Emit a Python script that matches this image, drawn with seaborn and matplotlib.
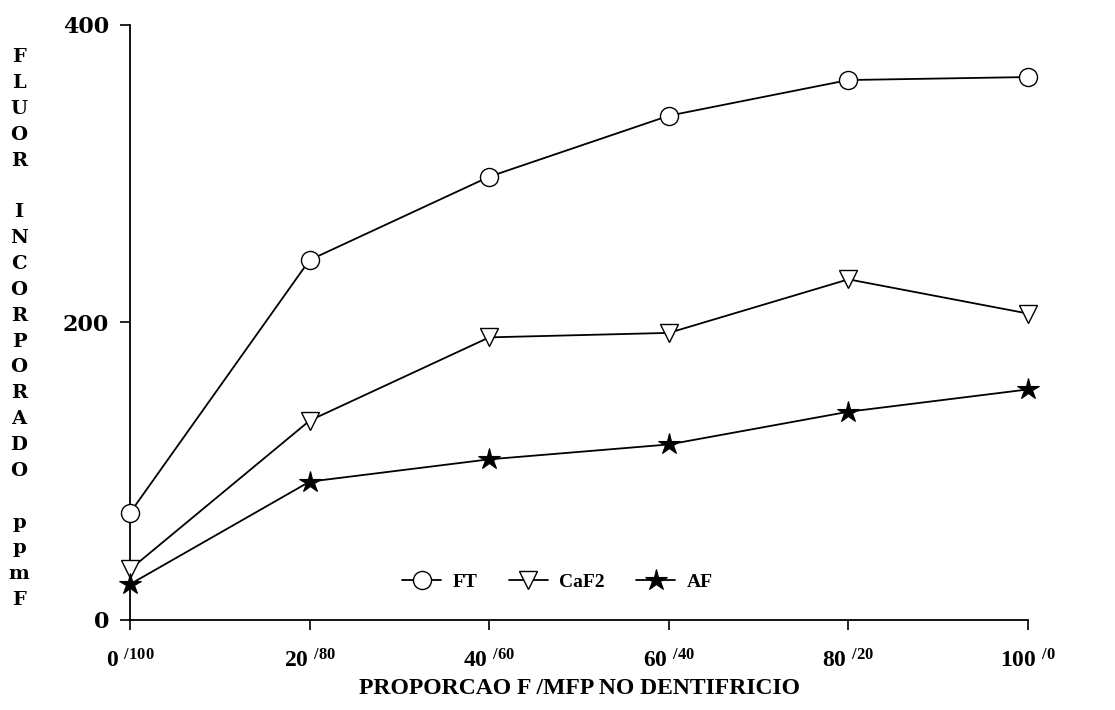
import matplotlib
matplotlib.use("Agg")
import matplotlib.pyplot as plt
import seaborn as sns
import pandas as pd

categories = ["0/100", "20/80", "40/60", "60/40", "80/20", "100/0"]
tick_main = ["0", "20", "40", "60", "80", "100"]
tick_sup = ["/100", "/80", "/60", "/40", "/20", "/0"]
ft = [72, 242, 298, 339, 363, 365]
caf2 = [34, 134, 190, 193, 229, 206]
af = [24, 93, 108, 118, 140, 155]
series_names = ["FT", "CaF2", "AF"]
yticks = [0, 200, 400]

sns.set_theme(style="ticks")
plt.rcParams["font.family"] = ["Liberation Serif", "DejaVu Serif"]
plt.rcParams["font.weight"] = "bold"
plt.rcParams["text.color"] = "black"
plt.rcParams["axes.labelcolor"] = "black"
plt.rcParams["xtick.color"] = "black"
plt.rcParams["ytick.color"] = "black"
plt.rcParams["mathtext.fontset"] = "custom"
plt.rcParams["mathtext.rm"] = "Liberation Serif:bold"
plt.rcParams["mathtext.it"] = "Liberation Serif:bold"
plt.rcParams["mathtext.bf"] = "Liberation Serif:bold"
plt.rcParams["mathtext.default"] = "rm"

df = pd.DataFrame({
    "x": list(range(len(categories))) * 3,
    "y": ft + caf2 + af,
    "serie": sum([[n] * len(categories) for n in series_names], []),
})

fig = plt.figure(figsize=(11.15, 7.1), dpi=100)
ax = fig.add_axes([0.1166, 0.1268, 0.8054, 0.8380])

markers = {"FT": "o", "CaF2": "v", "AF": "*"}
mstyle = {
    "FT": dict(markersize=13, markerfacecolor="white", markeredgecolor="black", markeredgewidth=1.0),
    "CaF2": dict(markersize=13, markerfacecolor="white", markeredgecolor="black", markeredgewidth=1.0),
    "AF": dict(markersize=16, markerfacecolor="black", markeredgecolor="black", markeredgewidth=0.8),
}
for name in series_names:
    sub = df[df["serie"] == name]
    sns.lineplot(data=sub, x="x", y="y", ax=ax, color="black", linewidth=1.3,
                 marker=markers[name], label=name, clip_on=False, zorder=3, **mstyle[name])

ax.set_xlim(0, len(categories) - 1)
ax.set_ylim(0, 400)
ax.set_yticks(yticks)
ax.set_yticklabels([str(v) for v in yticks], fontsize=16, fontweight="bold",
                   family=["DejaVu Serif"])
ax.set_xticks(range(len(categories)))
ax.set_xticklabels([f"{m} $^{{{s}}}$" for m, s in zip(tick_main, tick_sup)], fontsize=17)
ax.tick_params(axis="both", direction="out", length=7, width=1.2, color="black",
               labelcolor="black", left=True, bottom=True)
ax.tick_params(axis="x", pad=14)
ax.tick_params(axis="y", pad=8)
for s in ["top", "right"]:
    ax.spines[s].set_visible(False)
for s in ["left", "bottom"]:
    ax.spines[s].set_color("black")
    ax.spines[s].set_linewidth(1.3)
ax.set_xlabel("PROPORCAO F /MFP NO DENTIFRICIO", fontsize=17, fontweight="bold",
              labelpad=4, color="black")
ax.set_ylabel("")

ylabel = "F\nL\nU\nO\nR\n\nI\nN\nC\nO\nR\nP\nO\nR\nA\nD\nO\n\np\np\nm\nF"
fig.text(0.017, 0.537, ylabel, fontsize=14, fontweight="bold", ha="center", va="center",
         linespacing=1.56, color="black", family=["DejaVu Serif"])

leg = ax.legend(loc="center", bbox_to_anchor=(0.476, 0.064), ncol=3, frameon=False,
                fontsize=14, handlelength=2.0, columnspacing=1.6, handletextpad=0.6,
                labelcolor="black")

fig.savefig("out.png", dpi=100)
